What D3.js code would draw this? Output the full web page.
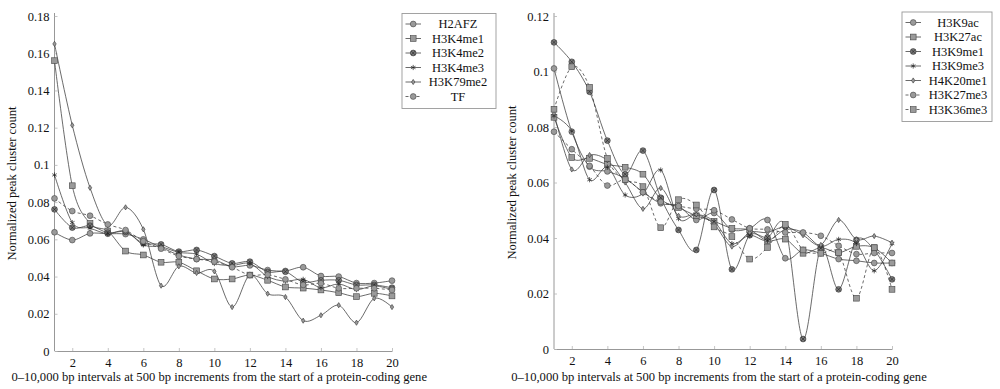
<!DOCTYPE html>
<html>
<head>
<meta charset="utf-8">
<script src="https://cdn.jsdelivr.net/npm/d3@7"></script>
<style>
body { margin: 0; background: #fff; }
text { font-family: "Liberation Serif", "Times New Roman", serif; fill: #111; }
</style>
</head>
<body>
<div id="chart"></div>
<script>
// x positions: 20 bins of 500 bp
var bins = d3.range(1, 21);
var xTicks = [2, 4, 6, 8, 10, 12, 14, 16, 18, 20];
var leftYTicks = [0, 0.02, 0.04, 0.06, 0.08, 0.1, 0.12, 0.14, 0.16, 0.18];
var rightYTicks = [0, 0.02, 0.04, 0.06, 0.08, 0.1, 0.12];

// left panel
var H2AFZ    = [0.0638, 0.0596, 0.0632, 0.0630, 0.0628, 0.0600, 0.0557, 0.0516, 0.0494, 0.0489, 0.0453, 0.0460, 0.0435, 0.0430, 0.0450, 0.0403, 0.0400, 0.0365, 0.0365, 0.0378];
var H3K4me1  = [0.1560, 0.0888, 0.0686, 0.0645, 0.0537, 0.0516, 0.0477, 0.0477, 0.0431, 0.0387, 0.0387, 0.0408, 0.0380, 0.0344, 0.0338, 0.0328, 0.0313, 0.0292, 0.0310, 0.0296];
var H3K4me2  = [0.0761, 0.0663, 0.0673, 0.0636, 0.0640, 0.0579, 0.0573, 0.0534, 0.0543, 0.0510, 0.0471, 0.0480, 0.0425, 0.0426, 0.0370, 0.0380, 0.0380, 0.0355, 0.0355, 0.0340];
var H3K4me3  = [0.0946, 0.0690, 0.0660, 0.0630, 0.0645, 0.0570, 0.0560, 0.0530, 0.0520, 0.0470, 0.0460, 0.0470, 0.0400, 0.0375, 0.0385, 0.0340, 0.0360, 0.0330, 0.0350, 0.0330];
var H3K79me2 = [0.1650, 0.1213, 0.0877, 0.0675, 0.0772, 0.0654, 0.0351, 0.0455, 0.0419, 0.0428, 0.0236, 0.0408, 0.0308, 0.0290, 0.0163, 0.0192, 0.0246, 0.0152, 0.0283, 0.0236];
var TF       = [0.0820, 0.0752, 0.0727, 0.0680, 0.0650, 0.0590, 0.0550, 0.0510, 0.0494, 0.0480, 0.0450, 0.0408, 0.0410, 0.0385, 0.0355, 0.0364, 0.0337, 0.0337, 0.0337, 0.0328];

// right panel
var H3K9ac   = [0.1011, 0.0783, 0.0657, 0.0640, 0.0615, 0.0565, 0.0525, 0.0515, 0.0465, 0.0490, 0.0430, 0.0435, 0.0465, 0.0327, 0.0357, 0.0345, 0.0324, 0.0318, 0.0310, 0.0310];
var H3K27ac  = [0.0835, 0.0690, 0.0687, 0.0665, 0.0655, 0.0630, 0.0540, 0.0510, 0.0480, 0.0460, 0.0435, 0.0429, 0.0390, 0.0396, 0.0345, 0.0365, 0.0347, 0.0370, 0.0365, 0.0310];
var H3K9me1  = [0.1105, 0.1035, 0.0927, 0.0751, 0.0630, 0.0715, 0.0545, 0.0429, 0.0357, 0.0573, 0.0287, 0.0410, 0.0402, 0.0441, 0.0036, 0.0363, 0.0215, 0.0393, 0.0357, 0.0251];
var H3K9me3  = [0.0840, 0.0785, 0.0610, 0.0655, 0.0555, 0.0560, 0.0645, 0.0470, 0.0485, 0.0460, 0.0380, 0.0410, 0.0390, 0.0430, 0.0420, 0.0370, 0.0395, 0.0380, 0.0282, 0.0380];
var H4K20me1 = [0.0850, 0.0647, 0.0699, 0.0680, 0.0600, 0.0505, 0.0580, 0.0480, 0.0485, 0.0450, 0.0369, 0.0420, 0.0420, 0.0440, 0.0410, 0.0375, 0.0465, 0.0395, 0.0407, 0.0383];
var H3K27me3 = [0.0783, 0.0720, 0.0660, 0.0589, 0.0610, 0.0565, 0.0530, 0.0515, 0.0505, 0.0500, 0.0467, 0.0435, 0.0431, 0.0420, 0.0420, 0.0408, 0.0372, 0.0342, 0.0346, 0.0346];
var H3K36me3 = [0.0864, 0.1017, 0.0943, 0.0687, 0.0610, 0.0585, 0.0437, 0.0538, 0.0519, 0.0440, 0.0405, 0.0324, 0.0366, 0.0449, 0.0357, 0.0345, 0.0347, 0.0183, 0.0365, 0.0215];

var leftSeries = [
  {name: "H2AFZ", values: H2AFZ, mark: "circle", dash: false},
  {name: "H3K4me1", values: H3K4me1, mark: "square", dash: false},
  {name: "H3K4me2", values: H3K4me2, mark: "otimes", dash: false},
  {name: "H3K4me3", values: H3K4me3, mark: "star", dash: false},
  {name: "H3K79me2", values: H3K79me2, mark: "diamond", dash: false},
  {name: "TF", values: TF, mark: "circle", dash: true}
];
var rightSeries = [
  {name: "H3K9ac", values: H3K9ac, mark: "circle", dash: false},
  {name: "H3K27ac", values: H3K27ac, mark: "square", dash: false},
  {name: "H3K9me1", values: H3K9me1, mark: "otimes", dash: false},
  {name: "H3K9me3", values: H3K9me3, mark: "star", dash: false},
  {name: "H4K20me1", values: H4K20me1, mark: "diamond", dash: false},
  {name: "H3K27me3", values: H3K27me3, mark: "circle", dash: true},
  {name: "H3K36me3", values: H3K36me3, mark: "square", dash: true}
];

var W = 1000, H = 389;
var lineCol = "#3a3a3a", markFill = "#9a9a9a", axisCol = "#8c8c8c";

var svg = d3.select("#chart").append("svg")
    .attr("width", W)
    .attr("height", H);

// draws one marker at (0,0) into g
function drawMark(g, type) {
  if (type == "circle") {
    g.append("circle").attr("r", 2.9).attr("fill", markFill).attr("stroke", "#444").attr("stroke-width", 0.6);
  } else if (type == "square") {
    g.append("rect").attr("x", -2.9).attr("y", -2.9).attr("width", 5.8).attr("height", 5.8)
      .attr("fill", markFill).attr("stroke", "#444").attr("stroke-width", 0.6);
  } else if (type == "otimes") {
    g.append("circle").attr("r", 2.9).attr("fill", "#7a7a7a").attr("stroke", "#333").attr("stroke-width", 0.6);
    g.append("path").attr("d", "M-2,-2L2,2M-2,2L2,-2").attr("stroke", "#222").attr("stroke-width", 0.6);
  } else if (type == "star") {
    g.append("path").attr("d", "M0,-2.6L0,2.6M-2.3,-1.3L2.3,1.3M-2.3,1.3L2.3,-1.3")
      .attr("stroke", "#222").attr("stroke-width", 0.7);
  } else if (type == "diamond") {
    g.append("path").attr("d", "M0,-2.6L1.7,0L0,2.6L-1.7,0Z").attr("fill", markFill)
      .attr("stroke", "#333").attr("stroke-width", 0.6);
  }
}

function panel(opt) {
  var x = d3.scaleLinear().domain([1, 20]).range([opt.x0, opt.x1]);
  var y = d3.scaleLinear().domain([0, opt.ymax]).range([opt.yb, opt.yt]);
  var g = svg.append("g");

  var xa = g.append("g").attr("transform", "translate(0," + opt.yb + ")")
    .call(d3.axisBottom(x).tickValues(xTicks).tickSize(-3).tickSizeOuter(0).tickPadding(7).tickFormat(d3.format("d")));
  var ya = g.append("g").attr("transform", "translate(" + opt.x0 + ",0)")
    .call(d3.axisLeft(y).tickValues(opt.yticks).tickSize(-3).tickSizeOuter(0).tickPadding(5).tickFormat(function (d) { return d === 0 ? "0" : String(+d.toFixed(2)); }));
  [xa, ya].forEach(function (a) {
    a.select(".domain").attr("stroke", axisCol).attr("stroke-width", 0.9);
    a.selectAll(".tick line").attr("stroke", "#b5b5b5").attr("stroke-width", 0.8);
    a.selectAll("text").attr("font-size", 12.5).attr("font-family", "Liberation Serif").attr("fill", "#111");
  });
  ya.select(".domain").attr("d", "M0," + opt.yb + "V" + (opt.yt - 3));

  g.append("text").attr("x", (opt.x0 + opt.x1) / 2 - 4).attr("y", 381)
    .attr("text-anchor", "middle").attr("font-size", 12.6)
    .text("0\u201310,000 bp intervals at 500 bp increments from the start of a protein-coding gene");
  g.append("text").attr("transform", "translate(" + opt.ytx + "," + ((opt.yb + opt.yt) / 2) + ") rotate(-90)")
    .attr("text-anchor", "middle").attr("font-size", 12.6)
    .text("Normalized peak cluster count");

  var line = d3.line()
    .x(function (d, i) { return x(bins[i]); })
    .y(function (d) { return y(d); })
    .curve(d3.curveCardinal.tension(0.05));

  opt.series.forEach(function (s) {
    g.append("path").attr("d", line(s.values)).attr("fill", "none")
      .attr("stroke", lineCol).attr("stroke-width", 0.75)
      .attr("stroke-dasharray", s.dash ? "3,2.5" : null);
  });
  opt.series.forEach(function (s) {
    s.values.forEach(function (v, i) {
      drawMark(g.append("g").attr("transform", "translate(" + x(bins[i]) + "," + y(v) + ")"), s.mark);
    });
  });

  // legend
  var lg = g.append("g").attr("transform", "translate(" + opt.lx + "," + opt.ly + ")");
  lg.append("rect").attr("width", opt.lw).attr("height", opt.series.length * 14.5 + 8)
    .attr("fill", "#fff").attr("stroke", "#999").attr("stroke-width", 0.9);
  opt.series.forEach(function (s, i) {
    var row = lg.append("g").attr("transform", "translate(0," + (10.5 + i * 14.5) + ")");
    row.append("line").attr("x1", 3.5).attr("x2", 19).attr("stroke", lineCol).attr("stroke-width", 0.75)
      .attr("stroke-dasharray", s.dash ? "3,2.5" : null);
    drawMark(row.append("g").attr("transform", "translate(11.2,0)"), s.mark);
    row.append("text").attr("x", 56).attr("y", 4).attr("text-anchor", "middle").attr("font-size", 12.5).text(s.name);
  });
}

panel({x0: 54.5, x1: 392, yb: 351, yt: 16, ymax: 0.18, yticks: leftYTicks, ytx: 16,
       series: leftSeries, lx: 402, ly: 13.5, lw: 94});
panel({x0: 554, x1: 892, yb: 349, yt: 16, ymax: 0.12, yticks: rightYTicks, ytx: 516,
       series: rightSeries, lx: 902, ly: 12, lw: 90});
</script>
</body>
</html>
